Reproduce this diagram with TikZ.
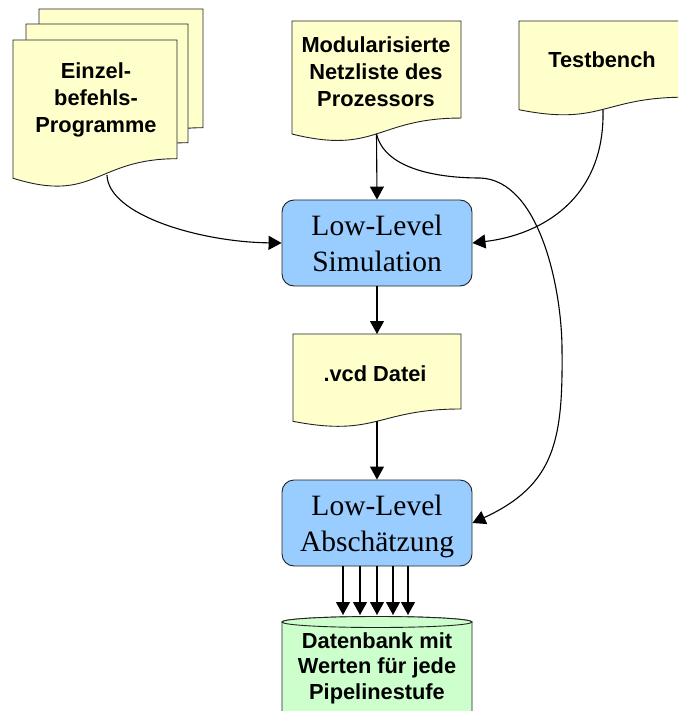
\documentclass[tikz,border=0pt]{standalone}
\usepackage{fontspec}
\setmainfont{Liberation Serif}
\newfontfamily\arialfam{Liberation Sans}
\usetikzlibrary{arrows.meta,calc}
\definecolor{docfill}{HTML}{FFFFCC}
\definecolor{boxfill}{HTML}{99CCFF}
\definecolor{dbfill}{HTML}{CCFFCC}
\definecolor{edge}{HTML}{222222}
\tikzset{
  docshape/.style={draw=none,inner sep=0pt,outer sep=0pt,anchor=north west},
  docline/.style={draw=edge,fill=docfill,line width=0.9pt},
  doctext/.style={font=\arialfam\bfseries\fontsize{21.8}{26.8}\selectfont,align=center,inner sep=0pt},
  procbox/.style={draw=edge,fill=boxfill,line width=0.9pt,rounded corners=12pt,
    minimum width=190pt,minimum height=86pt,inner sep=0pt,
    font=\fontsize{29.5}{36}\selectfont,align=center,text depth=0pt},
  conn/.style={line width=1.1pt,-{Triangle[length=13pt,width=14pt]}},
}
\newcommand\docwave[1]{%
  \filldraw[docline] (#1.north west) -- (#1.north east)
    -- ($(#1.north east)!0.802!(#1.south east)$)
    .. controls ($(#1.north)!0.802!(#1.south)$) and ($(#1.north)!1.1075!(#1.south)$)
    .. ($(#1.north west)!0.934!(#1.south west)$) -- cycle;}
\begin{document}
\begin{tikzpicture}[x=1pt,y=-1pt]
\clip (0,0) rectangle (678,711);
% stacked documents
\node[docshape,minimum width=164pt,minimum height=148pt] (einzBack) at (39,9) {};
\docwave{einzBack}
\node[docshape,minimum width=162pt,minimum height=148pt] (einzMid) at (26,24) {};
\docwave{einzMid}
\node[docshape,minimum width=164pt,minimum height=148pt] (einzFront) at (13,40) {};
\docwave{einzFront}
\node[doctext] (einzText) at (96,100) {Einzel-\\befehls-\\Programme};
% netlist
\node[docshape,minimum width=169pt,minimum height=121pt] (modDoc) at (292,21) {};
\docwave{modDoc}
\node[doctext] (modText) at (376,72) {Modularisierte\\Netzliste des\\Prozessors};
% testbench
\node[docshape,minimum width=166pt,minimum height=95pt] (tbDoc) at (519,21) {};
\docwave{tbDoc}
\node[doctext] (tbText) at (602,60) {Testbench};
% processes
\node[procbox] (simBox) at (377,243) {Low-Level\\Simulation};
\node[docshape,minimum width=168pt,minimum height=93.5pt] (vcdDoc) at (293,334) {};
\docwave{vcdDoc}
\node[doctext] (vcdText) at (375,374) {.vcd Datei};
\node[procbox] (abschBox) at (377,523) {Low-Level\\Absch\"atzung};
% database cylinder
\filldraw[draw=edge,fill=dbfill,line width=0.9pt] (472,622) -- (472,720) -- (282,720) -- (282,622)
   arc[start angle=180,end angle=360,x radius=95,y radius=5.5] -- cycle;
\filldraw[draw=edge,fill=dbfill,line width=0.9pt] (377,622) ellipse[x radius=95,y radius=5.5];
\node[coordinate] (dbTop) at (377,617) {};
\node[doctext,font=\arialfam\bfseries\fontsize{21.8}{25.5}\selectfont] (dbText) at (377,668) {Datenbank mit\\Werten f\"ur jede\\Pipelinestufe};
% connector end points
\coordinate (einzOut) at (107,175);
\coordinate (modOut) at ($(modDoc.north)!0.933!(modDoc.south)$);
\coordinate (tbOut) at (603,110);
\coordinate (vcdOut) at ($(vcdDoc.north)!0.933!(vcdDoc.south)$);
% connectors
\draw[conn] (einzOut) .. controls (108,215) and (200,242) .. (simBox.west);
\draw[conn] (modOut) -- (simBox.north);
\draw[conn] (tbOut) .. controls (605,200) and (540,235) .. (simBox.east);
\draw[conn] (modOut) .. controls (385,170) and (440,178) .. (480,178)
   .. controls (540,180) and (562,290) .. (562,350)
   .. controls (563,440) and (555,485) .. (abschBox.east);
\draw[conn] (simBox.south) -- (vcdDoc.north);
\draw[conn] (vcdOut) -- (abschBox.north);
\foreach \xx [count=\i] in {343,360,377,393,408}{
  \coordinate (dbIn\i) at (\xx,615);
  \draw[conn] (abschBox.south -| dbIn\i) -- (dbIn\i);
}
\end{tikzpicture}
\end{document}
